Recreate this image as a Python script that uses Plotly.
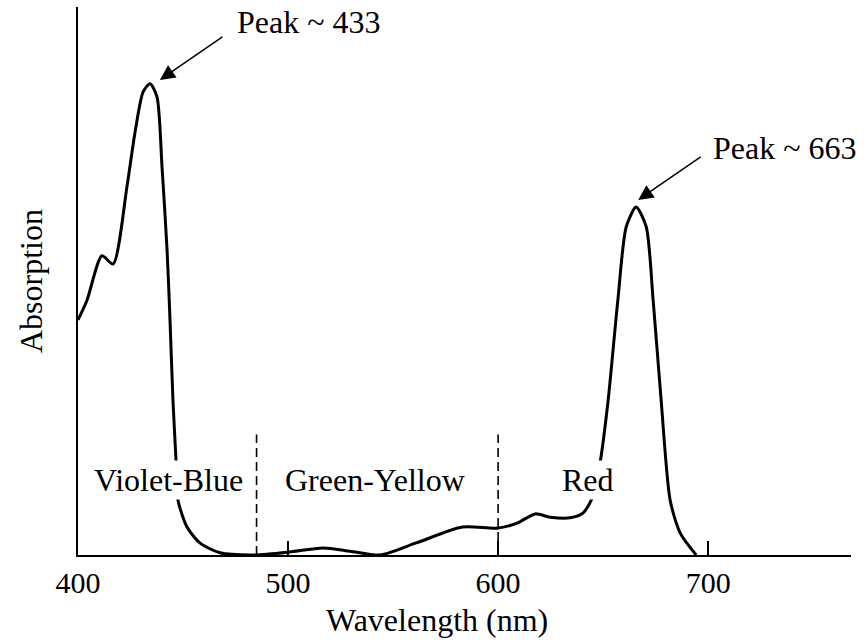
import plotly.graph_objects as go

# ---- data ----
wavelength = [400, 404.3, 411.4, 416.7, 423.3, 427.1, 431, 434.3, 437.6, 440, 442.4,
              443.8, 445.2, 446.7, 447.6, 451.9, 458, 467.6, 484, 500, 516.7, 529.5,
              543.8, 561, 583, 599.5, 609, 617.6, 624.8, 634.3, 640.5, 644.8, 648.6,
              652.4, 657, 661, 665.7, 670.5, 673.8, 677.6, 681.9, 686.7, 694.3]
absorption = [42.9, 46.5, 54.6, 53.1, 67.2, 77.0, 84.5, 86.0, 83.6, 70.8, 55.7,
              42.9, 28.3, 17.0, 10.0, 5.1, 2.2, 0.4, 0.0, 0.5, 1.3, 0.7,
              0.0, 2.2, 5.1, 4.9, 5.8, 7.5, 6.9, 6.8, 7.7, 10.4, 17.0,
              28.3, 46.5, 59.9, 63.5, 59.9, 46.5, 28.3, 10.0, 4.0, 0.0]

region_bounds = [485, 600]
region_top = 22
region_names = ["Violet-Blue", "Green-Yellow", "Red"]
region_label_x = [442.9, 541.4, 642.9]
region_label_y = 13.7

peak_labels = ["Peak ~ 433", "Peak ~ 663"]
peak_tip_x = [439, 666.7]
peak_tip_y = [86.7, 64.8]
peak_text_x = [474.8, 701.4]
peak_text_y = [97.3, 74.3]

tick_vals = [400, 500, 600, 700]
tick_text = ["400", "500", "600", "700"]

x_title = "Wavelength (nm)"
y_title = "Absorption"

FONT = "Liberation Serif"
FS = 32
TICK_FS = 30

fig = go.Figure()

fig.add_trace(go.Scatter(
    x=wavelength, y=absorption, mode="lines",
    line=dict(color="black", width=3, shape="spline", smoothing=0.7),
    showlegend=False, hoverinfo="skip"))

for b in region_bounds:
    fig.add_trace(go.Scatter(
        x=[b, b], y=[0, region_top], mode="lines",
        line=dict(color="black", width=1.6, dash="9px,5px"),
        showlegend=False, hoverinfo="skip"))

for name, lx in zip(region_names, region_label_x):
    fig.add_annotation(x=lx, y=region_label_y, text=name, showarrow=False,
                       bgcolor="white", font=dict(family=FONT, size=FS, color="black"),
                       xanchor="center", yanchor="middle")

for lab, tx, ty, px, py in zip(peak_labels, peak_text_x, peak_text_y, peak_tip_x, peak_tip_y):
    fig.add_annotation(x=tx, y=ty, text=lab, showarrow=False,
                       font=dict(family=FONT, size=FS, color="black"),
                       xanchor="left", yanchor="middle")
    fig.add_annotation(x=px, y=py, text="", showarrow=True,
                       ax=64, ay=-44, arrowhead=2, arrowsize=2,
                       arrowwidth=1.5, arrowcolor="black")

# x-axis title (placed slightly left of the axis centre, as in the reference)
fig.add_annotation(xref="paper", yref="paper", x=0.465, y=-0.119, text=x_title,
                   showarrow=False, font=dict(family=FONT, size=FS, color="black"),
                   xanchor="center", yanchor="middle", borderpad=0)

fig.update_layout(
    width=866, height=642,
    margin=dict(l=78, r=15, t=7, b=87),
    paper_bgcolor="white", plot_bgcolor="white",
    font=dict(family=FONT, size=FS, color="black"),
    xaxis=dict(range=[400, 768], showgrid=False, zeroline=False, automargin=False,
               showline=True, linecolor="black", linewidth=2,
               ticks="inside", ticklen=14, tickwidth=1.5, tickcolor="black",
               tickvals=tick_vals, ticktext=tick_text,
               tickfont=dict(family=FONT, size=TICK_FS)),
    yaxis=dict(range=[0, 100], showgrid=False, zeroline=False, automargin=False,
               showline=True, linecolor="black", linewidth=2,
               showticklabels=False, ticks="",
               title=dict(text=y_title, standoff=24,
                          font=dict(family=FONT, size=FS))),
)

fig.write_html("out.html", config={"displayModeBar": False},
               post_script="document.body.style.margin='0';")
